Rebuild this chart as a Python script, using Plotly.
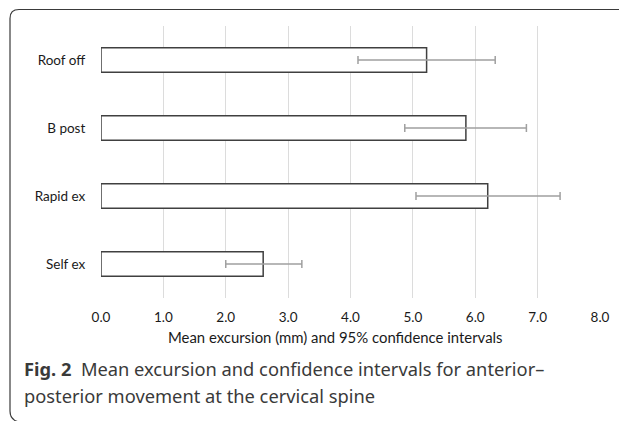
import plotly.graph_objects as go

categories = ["Roof off", "B post", "Rapid ex", "Self ex"]
means = [5.22, 5.85, 6.20, 2.60]
ci_low = [4.12, 4.87, 5.05, 2.00]
ci_high = [6.32, 6.82, 7.36, 3.22]
x_ticks = [0, 1, 2, 3, 4, 5, 6, 7, 8]
x_tick_labels = ["0.0", "1.0", "2.0", "3.0", "4.0", "5.0", "6.0", "7.0", "8.0"]

OFF = 8  # page body margin offset
W, H = 627 - OFF, 421 - OFF
L, T = 101 - OFF, 26 - OFF
R = W - (600 - OFF)
B = H - (298 - OFF)
pw, ph = W - L - R, H - T - B

def px(x):
    return (x - OFF - L) / pw

def py(y):
    return 1 - (y - OFF - T) / ph

err_plus = [h - m for h, m in zip(ci_high, means)]
err_minus = [m - l for m, l in zip(means, ci_low)]

fig = go.Figure(go.Bar(
    x=means, y=categories, orientation="h", width=0.36,
    marker=dict(color="white", line=dict(color="#404040", width=1.5)),
    error_x=dict(type="data", symmetric=False, array=err_plus, arrayminus=err_minus,
                 color="#a0a0a0", thickness=1.5, width=4),
))

chart_font = "Lato, Noto Sans, sans-serif"
fig.update_layout(
    width=W, height=H, margin=dict(l=L, r=R, t=T, b=B),
    paper_bgcolor="white", plot_bgcolor="white", showlegend=False,
    font=dict(family=chart_font, size=13.5, color="#1a1a1a"),
    xaxis=dict(range=[0, 8], tickvals=x_ticks, ticktext=x_tick_labels,
               showgrid=True, gridcolor="#dcdcdc", gridwidth=1, zeroline=False,
               showline=False, ticks="outside", ticklen=7, tickcolor="rgba(0,0,0,0)",
               tickfont=dict(size=13.5, color="#1a1a1a")),
    yaxis=dict(categoryorder="array", categoryarray=categories,
               range=[3.5, -0.5], autorange=False, showgrid=False, zeroline=False,
               showline=False, ticks="outside", ticklen=12, tickcolor="rgba(0,0,0,0)",
               tickfont=dict(size=13.5, color="#1a1a1a")),
)

fig.add_annotation(xref="paper", yref="paper", x=px(335), y=py(337),
                   text="Mean excursion (mm) and 95% confidence intervals",
                   showarrow=False, xanchor="center", yanchor="middle",
                   font=dict(family=chart_font, size=14.9, color="#1a1a1a"))

cap_font = "Noto Sans, Open Sans, sans-serif"
fig.add_annotation(xref="paper", yref="paper", x=px(22), y=py(368),
                   text="<b>Fig. 2</b>  Mean excursion and confidence intervals for anterior–",
                   showarrow=False, xanchor="left", yanchor="middle",
                   font=dict(family=cap_font, size=18.3, color="#3a3a3a"))
fig.add_annotation(xref="paper", yref="paper", x=px(22), y=py(395),
                   text="posterior movement at the cervical spine",
                   showarrow=False, xanchor="left", yanchor="middle",
                   font=dict(family=cap_font, size=18.3, color="#3a3a3a"))

# frame (rounded corners top-left and bottom-left)
path = (f"M {px(640)},{py(9.5)} L {px(19)},{py(9.5)} "
        f"Q {px(10)},{py(9.5)} {px(10)},{py(18.5)} "
        f"L {px(10)},{py(411)} Q {px(10)},{py(420)} {px(19)},{py(422)}")
fig.add_shape(type="path", path=path, xref="paper", yref="paper",
              line=dict(color="#3a3a3a", width=1.2))

fig.write_html("out.html")
